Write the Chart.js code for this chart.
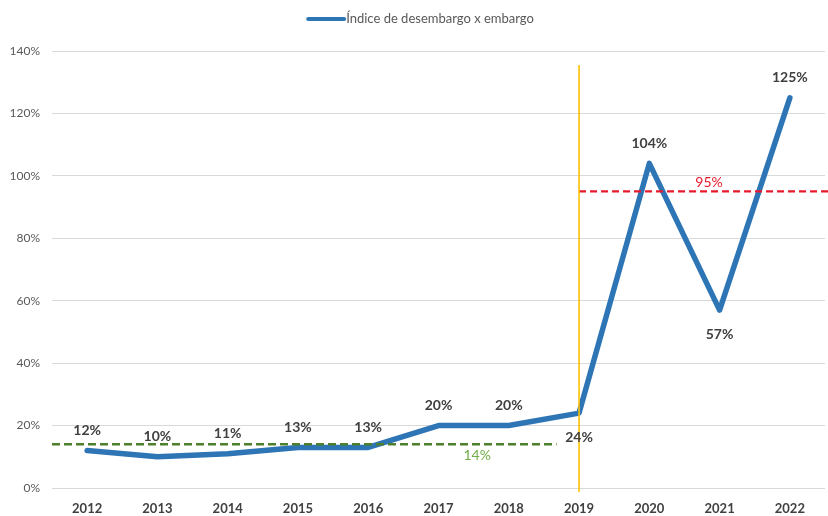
<!DOCTYPE html>
<html>
<head>
<meta charset="utf-8">
<script src="https://cdn.jsdelivr.net/npm/chart.js@4.4.1/dist/chart.umd.min.js"></script>
<style>
  html, body { margin: 0; padding: 0; background: #ffffff; }
  #wrap { width: 828px; height: 516px; }
</style>
</head>
<body>
<div id="wrap"><canvas id="c" width="828" height="516"></canvas></div>
<script>
// Index of released vs. seized, per year (%)
const years = ['2012', '2013', '2014', '2015', '2016', '2017', '2018', '2019', '2020', '2021', '2022'];
const indexValues = [12, 10, 11, 13, 13, 20, 20, 24, 104, 57, 125];
const labelSide = ['above', 'above', 'above', 'above', 'above', 'above', 'above', 'below', 'above', 'below', 'above'];
const seriesName = 'Índice de desembargo x embargo';

// Reference averages: before and after the 2019 break
const avgBefore = 14;
const avgAfter = 95;
const breakYearIndex = 7;

const FONT = 'Lato, "Open Sans", "DejaVu Sans", sans-serif';

const annotations = {
  id: 'annotations',
  afterDatasetsDraw(chart) {
    const { ctx, chartArea, scales } = chart;
    const x = scales.x, y = scales.y;
    ctx.save();

    // green average line (before 2019)
    ctx.strokeStyle = '#4e7f2c';
    ctx.lineWidth = 2.6;
    ctx.setLineDash([8, 4]);
    ctx.beginPath();
    ctx.moveTo(chartArea.left, y.getPixelForValue(avgBefore));
    ctx.lineTo(x.getPixelForValue(breakYearIndex - 0.32), y.getPixelForValue(avgBefore));
    ctx.stroke();

    // red average line (from 2019)
    ctx.strokeStyle = '#e8192c';
    ctx.lineWidth = 2.2;
    ctx.setLineDash([7, 4]);
    ctx.beginPath();
    ctx.moveTo(x.getPixelForValue(breakYearIndex), y.getPixelForValue(avgAfter));
    ctx.lineTo(chart.width, y.getPixelForValue(avgAfter));
    ctx.stroke();

    // yellow marker at the 2019 break
    ctx.setLineDash([]);
    ctx.strokeStyle = '#ffc000';
    ctx.lineWidth = 1.6;
    const bx = x.getPixelForValue(breakYearIndex);
    ctx.beginPath();
    ctx.moveTo(bx, y.getPixelForValue(135.5));
    ctx.lineTo(bx, chartArea.bottom + 4);
    ctx.stroke();

    // average labels
    ctx.font = '14px ' + FONT;
    ctx.textAlign = 'center';
    ctx.textBaseline = 'middle';
    ctx.fillStyle = '#70ad47';
    ctx.fillText(avgBefore + '%', x.getPixelForValue(5.55), y.getPixelForValue(avgBefore) + 11);
    ctx.fillStyle = '#e8192c';
    ctx.fillText(avgAfter + '%', x.getPixelForValue(8.85), y.getPixelForValue(avgAfter) - 9);

    // value labels on the series
    const meta = chart.getDatasetMeta(0);
    ctx.font = 'bold 14px ' + FONT;
    ctx.fillStyle = '#404040';
    meta.data.forEach((pt, i) => {
      const dy = labelSide[i] === 'below' ? 24 : -20;
      ctx.fillText(indexValues[i] + '%', pt.x, pt.y + dy);
    });

    // legend
    const text = seriesName;
    ctx.font = '13px ' + FONT;
    const tw = ctx.measureText(text).width;
    const sampleW = 36;
    const total = sampleW + 2 + tw;
    const lx = chart.width / 2 - total / 2 + 7;
    ctx.strokeStyle = '#2e75b6';
    ctx.lineWidth = 4;
    ctx.lineCap = 'round';
    ctx.beginPath();
    ctx.moveTo(lx, 19);
    ctx.lineTo(lx + sampleW, 19);
    ctx.stroke();
    ctx.fillStyle = '#595959';
    ctx.textAlign = 'left';
    ctx.fillText(text, lx + sampleW + 2, 19);

    ctx.restore();
  }
};

new Chart(document.getElementById('c'), {
  type: 'line',
  data: {
    labels: years,
    datasets: [{
      label: seriesName,
      data: indexValues,
      borderColor: '#2e75b6',
      backgroundColor: '#2e75b6',
      borderWidth: 5.5,
      borderCapStyle: 'round',
      borderJoinStyle: 'round',
      pointRadius: 0,
      pointHoverRadius: 0,
      tension: 0,
      fill: false
    }]
  },
  options: {
    responsive: false,
    animation: false,
    devicePixelRatio: 1,
    layout: { padding: { top: 51, right: 3, left: 0, bottom: 0 } },
    plugins: {
      legend: { display: false },
      tooltip: { enabled: false }
    },
    scales: {
      x: {
        offset: true,
        grid: { display: false, drawTicks: false },
        border: { display: false },
        ticks: {
          padding: 13,
          color: '#404040',
          font: { family: FONT, size: 13, weight: 'bold' }
        },
        afterFit(s) { s.height = 28; }
      },
      y: {
        min: 0,
        max: 140,
        ticks: {
          stepSize: 20,
          padding: 12,
          color: '#595959',
          font: { family: FONT, size: 12 },
          callback: v => v + '%'
        },
        grid: { color: '#d9d9d9', lineWidth: 1, drawTicks: false },
        border: { display: false },
        afterFit(s) { s.width = 52; }
      }
    }
  },
  plugins: [annotations]
});
</script>
</body>
</html>
